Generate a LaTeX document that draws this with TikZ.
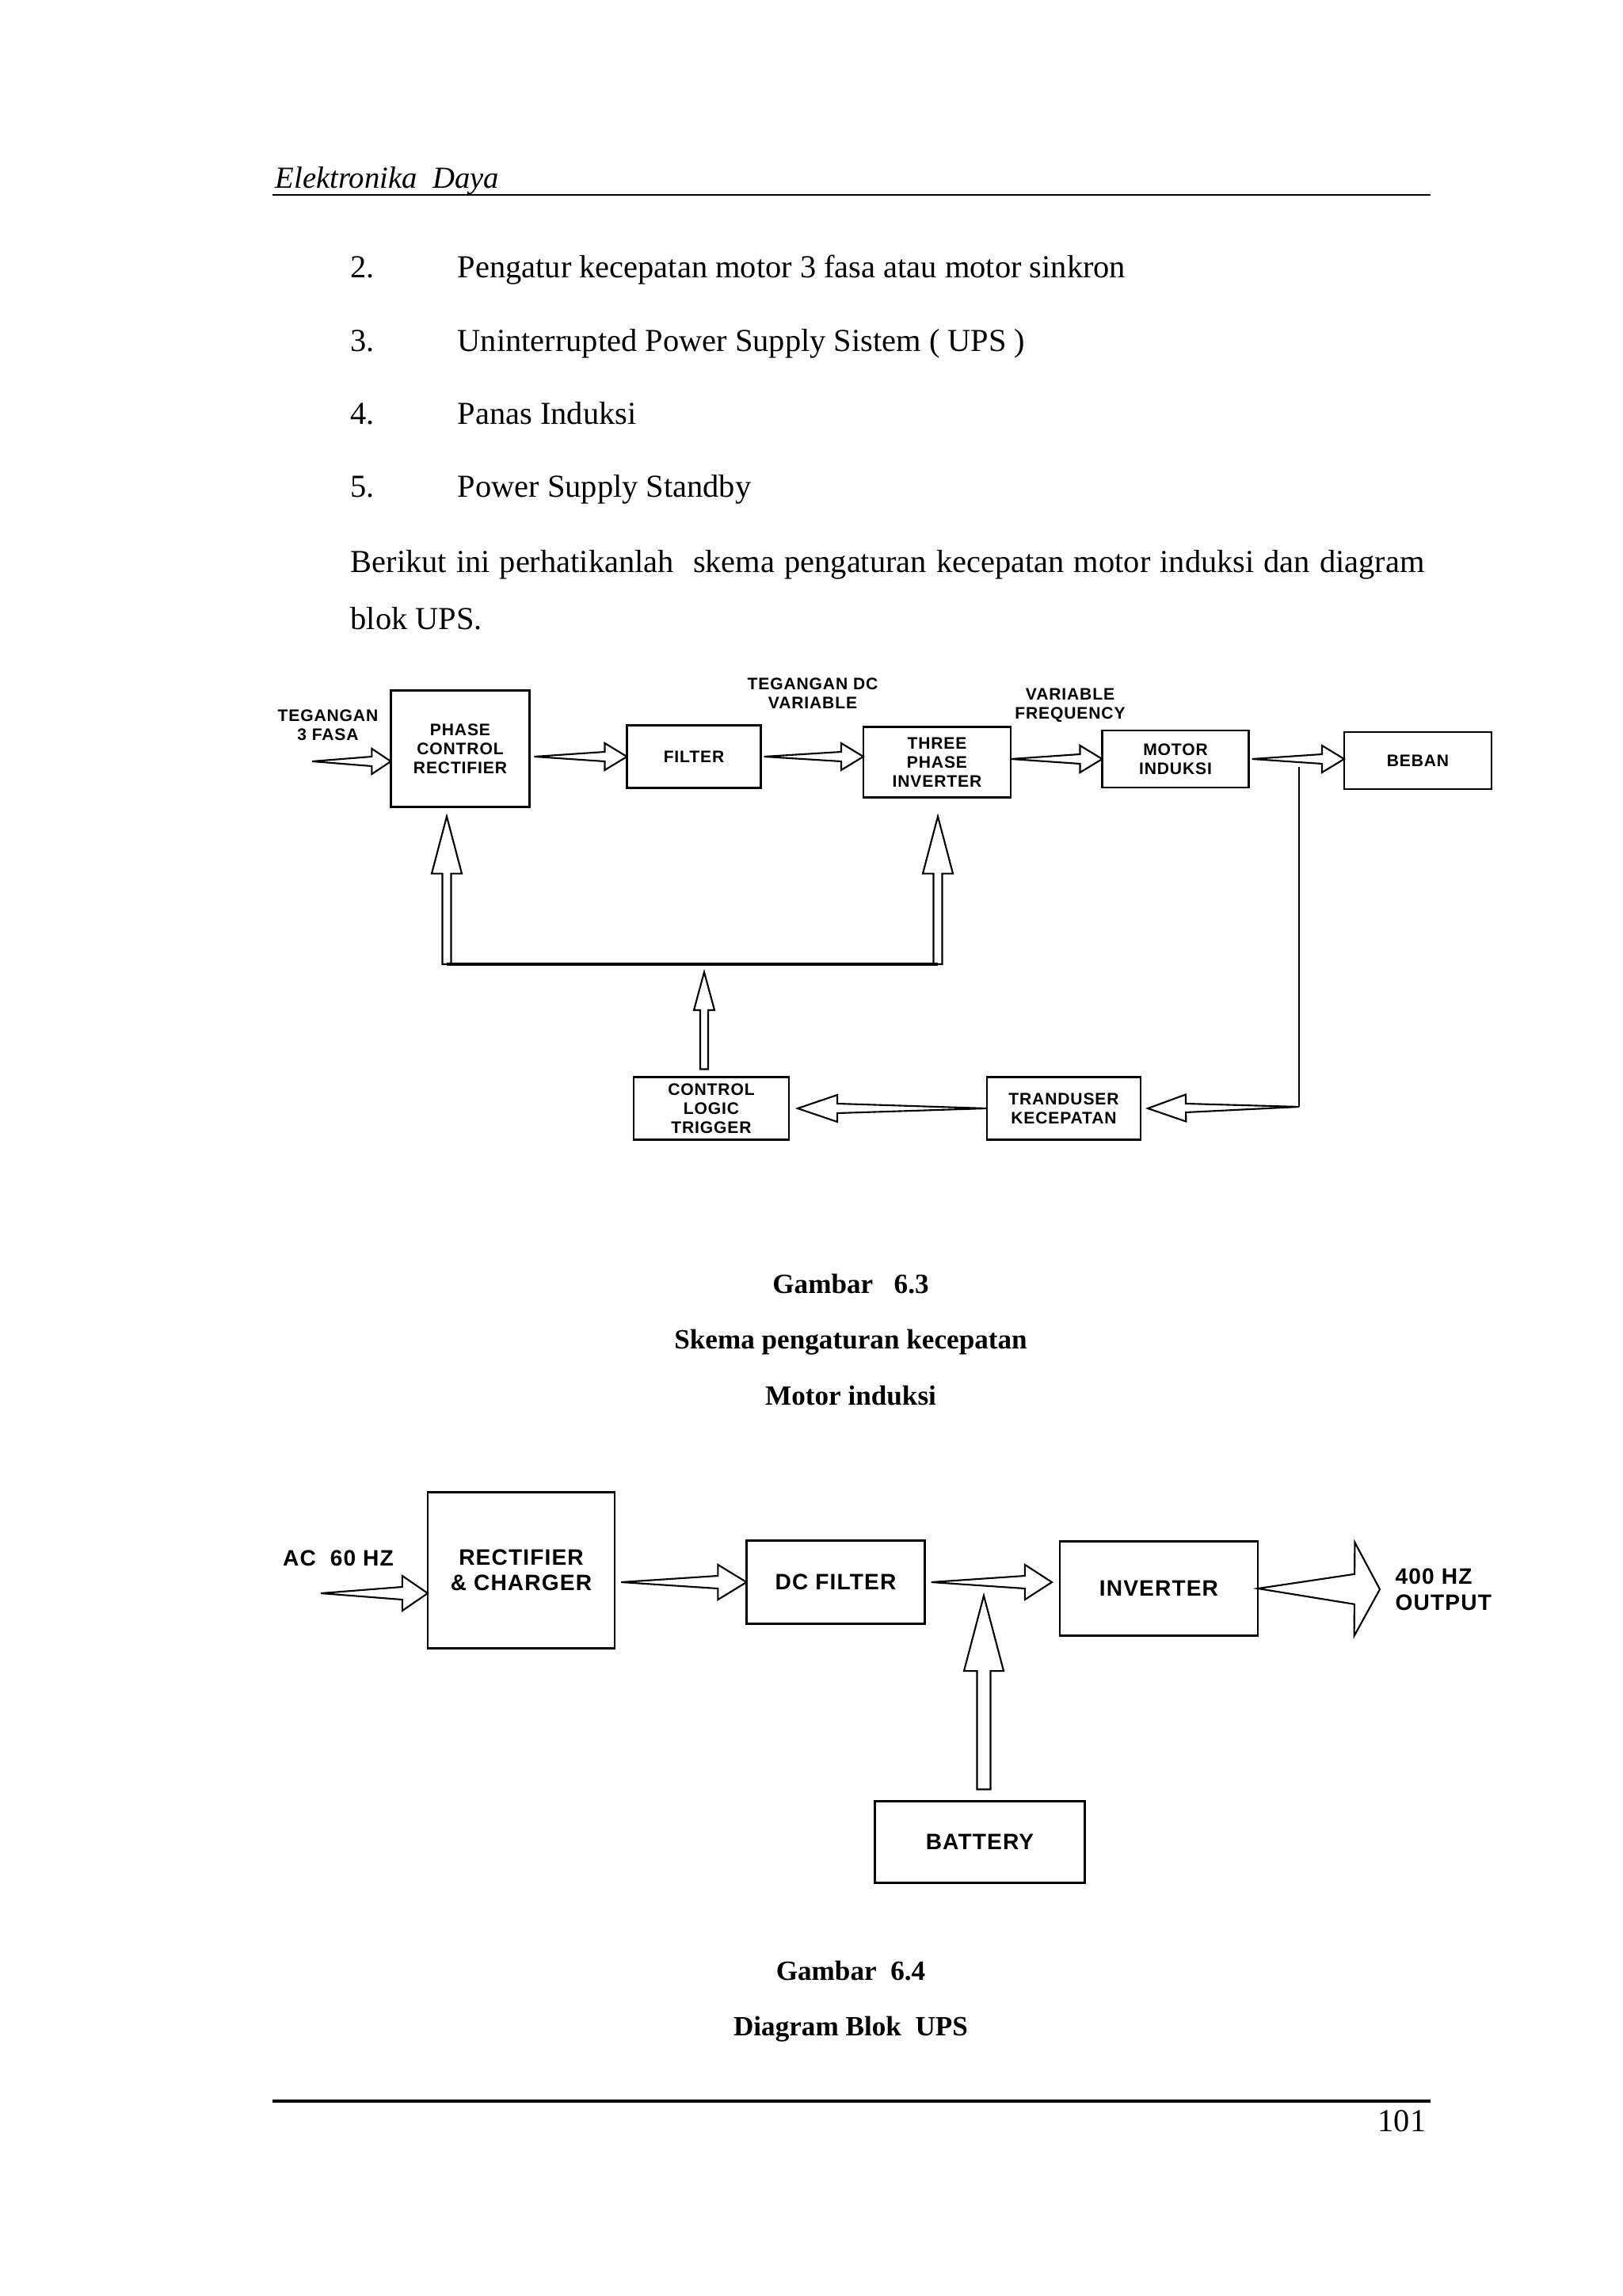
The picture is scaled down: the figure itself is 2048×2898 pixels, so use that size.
\documentclass[tikz,border=0pt]{standalone}
\usepackage{fontspec}
\setmainfont{Liberation Serif}
\newfontfamily\blokfont[LetterSpace=4]{Liberation Sans}
\usetikzlibrary{calc}

% panah lebar, ekor runcing
\newcommand{\panahbaji}[5]{%
  \path #1 coordinate (pT) #2 coordinate (pP);
  \path ($(pP)!#5!(pT)$) coordinate (pB);
  \draw[panah] (pT) -- ($(pB)!#3!90:(pP)$) -- ($(pB)!#4!90:(pP)$) -- (pP)
    -- ($(pB)!#4!-90:(pP)$) -- ($(pB)!#3!-90:(pP)$) -- cycle;}
% panah lebar, batang lurus
\newcommand{\panahbatang}[5]{%
  \path #1 coordinate (pT) #2 coordinate (pP);
  \path ($(pP)!#5!(pT)$) coordinate (pB);
  \draw[panah] ($(pT)!#3!-90:(pP)$) -- ($(pT)!#3!90:(pP)$) -- ($(pB)!#3!90:(pP)$)
    -- ($(pB)!#4!90:(pP)$) -- (pP) -- ($(pB)!#4!-90:(pP)$) -- ($(pB)!#3!-90:(pP)$) -- cycle;}

\begin{document}
\begin{tikzpicture}[x=0.01cm,y=-0.01cm,
    teks/.style={font=\fontsize{11.5}{13}\selectfont, inner sep=0, anchor=base west},
    judul/.style={font=\fontsize{10}{12}\selectfont\bfseries, inner sep=0, anchor=base},
    blok/.style={draw, line width=0.7pt, inner sep=0, outer sep=0, align=center,
        font=\blokfont\bfseries\fontsize{6}{6.8}\selectfont},
    blokbesar/.style={blok, font=\blokfont\bfseries\fontsize{8}{9}\selectfont},
    ket/.style={inner sep=0, align=center, font=\blokfont\bfseries\fontsize{6}{6.8}\selectfont},
    ketbesar/.style={ket, font=\blokfont\bfseries\fontsize{8}{9.4}\selectfont},
    panah/.style={draw, fill=white, line width=0.6pt, line join=miter}]
    \fill[white] (0,0) rectangle (2048,2898);
    \useasboundingbox (0,0) rectangle (2048,2898);

    % kepala dan kaki halaman
    \node[teks, font=\fontsize{11}{13}\selectfont\itshape] (kepala) at (347,238) {Elektronika\ \ Daya};
    \draw[line width=0.8pt] (344,246) -- (1806,246);
    \draw[line width=1pt] (344,2652) -- (1806,2652);
    \node[teks, anchor=base east] (hal) at (1801,2690) {101};

    % isi teks
    \foreach \no/\isi/\yy [count=\i] in {2./Pengatur kecepatan motor 3 fasa atau motor sinkron/351,
        3./Uninterrupted Power Supply Sistem ( UPS )/444, 4./Panas Induksi/536, 5./Power Supply Standby/628}
    {
        \node[teks] (nomor\i) at (442,\yy) {\no};
        \node[teks] (butir\i) at (577,\yy) {\isi};
    }
    \node[teks] (par1) at (442,723) {\makebox[13.55cm][s]{Berikut ini perhatikanlah\ \ skema pengaturan kecepatan motor induksi dan diagram}};
    \node[teks] (par2) at (442,795) {blok UPS.};

    % gambar 6.3
    \node[blok, minimum width=1.75cm, minimum height=1.47cm] (pcr) at (581,945) {PHASE\\CONTROL\\RECTIFIER};
    \node[blok, minimum width=1.69cm, minimum height=0.79cm] (filter) at (876,955) {FILTER};
    \node[blok, minimum width=1.86cm, minimum height=0.89cm] (tpi) at (1183,962) {THREE\\PHASE\\INVERTER};
    \node[blok, minimum width=1.85cm, minimum height=0.72cm] (mi) at (1484,958) {MOTOR\\INDUKSI};
    \node[blok, minimum width=1.86cm, minimum height=0.72cm] (beban) at (1790,960) {BEBAN};
    \node[blok, minimum width=1.94cm, minimum height=0.79cm] (tk) at (1343,1399) {TRANDUSER\\KECEPATAN};
    \node[blok, minimum width=1.96cm, minimum height=0.79cm] (clt) at (898,1399) {CONTROL\\LOGIC\\TRIGGER};

    \node[ket] (teg3) at (414,915) {TEGANGAN\\3 FASA};
    \node[ket] (tegdc) at (1026,875) {TEGANGAN DC\\VARIABLE};
    \node[ket] (varf) at (1351,890) {VARIABLE\\FREQUENCY};

    \coordinate (masuk) at (394,961);
    \panahbaji{(masuk)}{(pcr.west |- masuk)}{0.06cm}{0.16cm}{0.24cm}
    \panahbaji{($(pcr.east |- filter.west)+(6,0)$)}{(filter.west)}{0.06cm}{0.17cm}{0.28cm}
    \panahbaji{($(filter.east)+(4,0)$)}{(tpi.west |- filter.east)}{0.06cm}{0.17cm}{0.28cm}
    \panahbaji{(tpi.east |- mi.west)}{(mi.west)}{0.06cm}{0.17cm}{0.28cm}
    \panahbaji{($(mi.east)+(4,0)$)}{(beban.west |- mi.east)}{0.06cm}{0.17cm}{0.28cm}

    \coordinate (umpanatas) at (1640,968);
    \coordinate (umpanbawah) at (1640,1397);
    \draw[line width=0.6pt] (umpanatas) -- (umpanbawah);
    \panahbaji{(umpanbawah)}{($(tk.east)+(9,0)$)}{0.055cm}{0.17cm}{0.48cm}
    \panahbaji{(tk.west)}{($(clt.east)+(11,0)$)}{0.06cm}{0.17cm}{0.5cm}

    \coordinate (buskiri) at (564,1217);
    \coordinate (buskanan) at (1184,1217);
    \panahbatang{(buskiri)}{($(buskiri |- pcr.south)+(0,12)$)}{0.055cm}{0.19cm}{0.72cm}
    \panahbatang{(buskanan)}{($(buskanan |- tpi.south)+(0,24)$)}{0.055cm}{0.19cm}{0.72cm}
    \panahbatang{($(clt.north)+(-9,-10)$)}{($(clt.north |- buskiri)+(-9,10)$)}{0.05cm}{0.13cm}{0.48cm}
    \draw[line width=1.2pt] (buskiri) -- (buskanan);

    \node[judul] (gbr3) at (1074,1632) {Gambar\ \ \ 6.3};
    \node[judul] (gbr3a) at (1074,1702) {Skema pengaturan kecepatan};
    \node[judul] (gbr3b) at (1074,1773) {Motor induksi};

    % gambar 6.4
    \node[blokbesar, minimum width=2.36cm, minimum height=1.97cm] (rc) at (658,1982) {RECTIFIER\\\& CHARGER};
    \node[blokbesar, minimum width=2.25cm, minimum height=1.05cm] (dc) at (1055,1997) {DC FILTER};
    \node[blokbesar, minimum width=2.50cm, minimum height=1.19cm] (inv) at (1463,2005) {INVERTER};
    \node[blokbesar, minimum width=2.65cm, minimum height=1.03cm] (bat) at (1237,2325) {BATTERY};

    \node[ketbesar] (ac) at (427,1967) {AC\ \ 60 HZ};
    \node[ketbesar, align=left, anchor=west] (out) at (1761,2006) {400 HZ\\OUTPUT};

    \coordinate (acmasuk) at (405,2011);
    \panahbaji{(acmasuk)}{(rc.west |- acmasuk)}{0.08cm}{0.22cm}{0.32cm}
    \panahbaji{($(rc.east |- dc.west)+(8,0)$)}{(dc.west)}{0.08cm}{0.22cm}{0.36cm}
    \panahbaji{($(dc.east)+(8,0)$)}{($(inv.west |- dc.east)+(-10,0)$)}{0.08cm}{0.22cm}{0.34cm}
    \coordinate (keluar) at (1742,2006);
    \panahbaji{(inv.east)}{(keluar)}{0.19cm}{0.59cm}{0.32cm}
    \coordinate (bateraiujung) at (1242,2014);
    \panahbatang{($(bat.north)+(5,-15)$)}{(bateraiujung)}{0.085cm}{0.25cm}{0.95cm}

    \node[judul] (gbr4) at (1074,2499) {Gambar\ \ 6.4};
    \node[judul] (gbr4a) at (1074,2569) {Diagram Blok\ \ UPS};
\end{tikzpicture}
\end{document}
